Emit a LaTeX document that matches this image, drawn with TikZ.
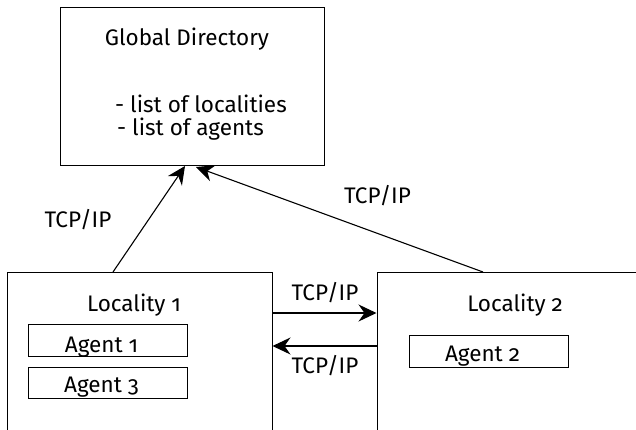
\documentclass[tikz,border=0pt]{standalone}
\usepackage{fontspec}
\setmainfont{Fira Sans}[Numbers=OldStyle]
\usetikzlibrary{arrows.meta,calc}
\begin{document}
\begin{tikzpicture}[x=1pt,y=-1pt,
  box/.style={draw=black,line width=1pt,rectangle,inner sep=0pt},
  txt/.style={font=\fontsize{22.5}{26}\selectfont,inner sep=0pt,anchor=base},
  arr/.style={line width=1.1pt,-{Stealth[length=18pt,width=17pt,inset=6pt]}}]
\useasboundingbox (0,0) rectangle (636,429);
\clip (0,0) rectangle (636,429);
% boxes
\node[box,minimum width=264,minimum height=158] (gd) at (192,86) {};
\node[box,minimum width=265,minimum height=200] (l1) at (139.5,372) {};
\node[box,minimum width=283,minimum height=200] (l2) at (518.5,372) {};
\node[box,minimum width=159,minimum height=32] (a1) at (107.5,340) {};
\node[box,minimum width=159,minimum height=31] (a3) at (107.5,382.5) {};
\node[box,minimum width=159,minimum height=32] (a2) at (488.5,351) {};
% texts
\node[txt] (gdt) at (187,45) {Global Directory};
\node[txt,anchor=base west] (gdl1) at (115,112) {- list of localities};
\node[txt,anchor=base west] (gdl2) at (117,135) {- list of agents};
\node[txt] (l1t) at (134,311) {Locality 1};
\node[txt] (l2t) at (515,311) {Locality 2};
\node[txt] (a1t) at (101.5,352) {Agent 1};
\node[txt] (a3t) at (101.5,392) {Agent 3};
\node[txt] (a2t) at (482.5,361) {Agent 2};
% connectors
\coordinate (gdin1) at (185,166);
\coordinate (gdin2) at (196,167);
\coordinate (l1out) at (113,272);
\coordinate (l2out) at (483,272);
\coordinate (hy1) at (0,313);
\coordinate (hy2) at (0,346);
\draw[arr] (l1out) -- (gdin1);
\draw[arr] (l2out) -- (gdin2);
\draw[arr] (l1.east |- hy1) -- (l2.west |- hy1);
\draw[arr] (l2.west |- hy2) -- (l1.east |- hy2);
\node[txt] (tcp1) at (78,227) {TCP/IP};
\node[txt] (tcp2) at (377.5,203) {TCP/IP};
\node[txt] (tcp3) at (325,300) {TCP/IP};
\node[txt] (tcp4) at (325,373) {TCP/IP};
\end{tikzpicture}
\end{document}
